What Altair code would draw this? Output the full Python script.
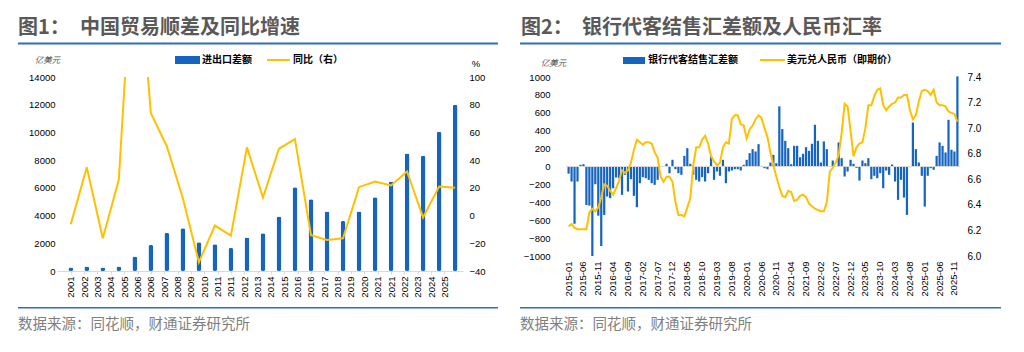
import altair as alt
import pandas as pd

# ---------------- Figure 1: China trade surplus and YoY ----------------
years = [2001, 2002, 2003, 2004, 2005, 2006, 2007, 2008, 2009, 2010, 2011, 2012, 2013,
         2014, 2015, 2016, 2017, 2018, 2019, 2020, 2021, 2022, 2023, 2024, 2025]
trade_surplus = [250, 320, 260, 330, 1050, 1880, 2750, 3080, 2070, 1930, 1660, 2410, 2720,
                 3930, 6050, 5180, 4290, 3610, 4290, 5330, 6460, 8480, 8310, 10050, 12000]
trade_yoy = [-6.3, 34.9, -16.4, 25.8, 218.0, 74.0, 49.9, 12.5, -33.7, -7.2, -14.5, 49.2, 13.0,
             48.2, 55.2, -14.2, -17.6, -16.4, 20.5, 24.6, 21.7, 31.8, -1.4, 21.0, 20.0]

# ---------------- Figure 2: bank FX settlement balance and USD/CNY ----------------
fx_years = [2015, 2016, 2017, 2018, 2019, 2020, 2021, 2022, 2023, 2024, 2025]
fx_net = [
    -80, -168, -640, -168, 19, 26, -430, -437, -1000, -198, -549, -888,      # 2015
    -541, -336, -354, -243, -123, -131, -317, -93, -280, -142, -328, -455,   # 2016
    -187, -119, -131, -149, -187, -205, -149, -5, 5, 30, -75, 75,            # 2017
    -30, -75, -93, 119, 205, 30, -93, -149, -168, -119, -168, -75,           # 2018
    119, -149, -56, -104, 75, -187, -56, -45, -30, -30, -45, 19,             # 2019
    75, 149, 194, 168, 250, 7, -19, -30, 45, 130, 37, 672,                   # 2020
    418, 287, 205, 26, 231, 231, 104, 142, 216, 175, 254, 466,               # 2021
    287, 45, 280, 194, -5, 67, 5, 269, 93, -112, -56, 75,                    # 2022
    30, -15, -157, 67, 37, 93, -142, -104, -131, -75, -243, -45,             # 2023
    -93, 22, -168, -373, -149, -347, -541, -7, 492, 194, 45, -104,           # 2024
    -448, -104, -19, -37, 119, 269, 231, 157, 522, 187, 168, 1007,           # 2025
]
usdcny = [
    6.23, 6.25, 6.22, 6.21, 6.21, 6.21, 6.21, 6.34, 6.37, 6.35, 6.38, 6.46,
    6.56, 6.55, 6.51, 6.48, 6.53, 6.59, 6.67, 6.65, 6.67, 6.73, 6.83, 6.91,
    6.89, 6.87, 6.89, 6.89, 6.88, 6.81, 6.77, 6.62, 6.58, 6.62, 6.62, 6.58,
    6.42, 6.32, 6.32, 6.31, 6.38, 6.45, 6.71, 6.85, 6.85, 6.91, 6.94, 6.88,
    6.78, 6.74, 6.71, 6.73, 6.85, 6.89, 6.88, 7.07, 7.10, 7.10, 7.03, 7.02,
    6.92, 6.99, 7.02, 7.07, 7.10, 7.08, 7.00, 6.93, 6.81, 6.71, 6.62, 6.54,
    6.47, 6.46, 6.51, 6.50, 6.43, 6.44, 6.47, 6.48, 6.46, 6.41, 6.39, 6.37,
    6.36, 6.35, 6.35, 6.42, 6.66, 6.69, 6.73, 6.79, 6.96, 7.19, 7.17, 6.98,
    6.78, 6.85, 6.88, 6.89, 7.00, 7.18, 7.18, 7.25, 7.30, 7.31, 7.18, 7.14,
    7.17, 7.19, 7.20, 7.24, 7.24, 7.26, 7.26, 7.14, 7.07, 7.10, 7.21, 7.29,
    7.30, 7.29, 7.26, 7.30, 7.20, 7.18, 7.18, 7.17, 7.13, 7.12, 7.11, 7.05,
]

CJK = "Noto Sans CJK SC"
NUM = "Liberation Sans"
BLUE = "#1565C0"
GOLD = "#FFC000"
RULE = "#2F6EB8"
GREY_TITLE = "#595959"
GREY_SRC = "#7F7F7F"

one = alt.Data(values=[{}])


def txt(s, x, y, size, color="#000000", weight="normal", font=CJK, align="left",
        style="normal"):
    return alt.Chart(one).mark_text(
        text=s, fontSize=size, color=color, fontWeight=weight, font=font,
        align=align, baseline="middle", fontStyle=style
    ).encode(x=alt.value(x), y=alt.value(y))


def hrule(x1, x2, y, color, width):
    return alt.Chart(one).mark_rule(color=color, strokeWidth=width).encode(
        x=alt.value(x1), x2=alt.value(x2), y=alt.value(y))


def box(x1, x2, y1, y2, color, opacity=1.0):
    return alt.Chart(one).mark_rect(color=color, opacity=opacity).encode(
        x=alt.value(x1), x2=alt.value(x2), y=alt.value(y1), y2=alt.value(y2))


# ---------------- left panel ----------------
df1 = pd.DataFrame({
    "date": [f"{y}-12-01" for y in years],
    "surplus": trade_surplus,
    "yoy": trade_yoy,
})

tick_dates = []
yy, mm = 2001, 12
for _ in range(29):
    tick_dates.append(alt.DateTime(year=yy, month=mm, date=1))
    mm += 10
    while mm > 12:
        mm -= 12
        yy += 1

W1, H1 = 406, 194
x1 = alt.X("date:T",
           scale=alt.Scale(domain=[alt.DateTime(year=2001, month=5, date=15),
                                   alt.DateTime(year=2026, month=2, date=5)]),
           axis=alt.Axis(values=tick_dates, format="%Y", labelAngle=270,
                         labelFontSize=9.5, labelFont=NUM, labelColor="#000000",
                         domainColor="#D9D9D9", tickColor="#D9D9D9", tickSize=3,
                         labelPadding=2, grid=False, title=None, labelOverlap=False))

bars1 = alt.Chart(df1).mark_bar(size=4.8, color=BLUE, cornerRadius=2).encode(
    x=x1,
    y=alt.Y("surplus:Q", scale=alt.Scale(domain=[0, 14000]),
            axis=alt.Axis(values=list(range(0, 14001, 2000)), format="d", grid=False,
                          domain=False, ticks=False, labelPadding=2, labelFontSize=9.5,
                          labelFont=NUM, labelColor="#000000", title=None,
                          labelOverlap=False)),
)
line1 = alt.Chart(df1).mark_line(color=GOLD, strokeWidth=2, clip=True).encode(
    x=x1,
    y=alt.Y("yoy:Q", scale=alt.Scale(domain=[-40, 100]),
            axis=alt.Axis(orient="right", values=list(range(-40, 101, 20)), format="d",
                          grid=False, domain=False, ticks=False, labelPadding=6,
                          labelFontSize=9.5, labelFont=NUM, labelColor="#000000",
                          title=None, labelOverlap=False)),
)

left = alt.layer(
    box(-57, 455, -77, 275, "#FFFFFF", 0.0),
    bars1, line1,
    txt("图1：", -39, -49.5, 20, GREY_TITLE, "bold"),
    txt("中国贸易顺差及同比增速", 23, -49.5, 20, GREY_TITLE, "bold"),
    hrule(-39, 441, -33.5, RULE, 2),
    txt("亿美元", -9.5, -17, 8.5, GREY_TITLE, align="center", style="italic"),
    box(118, 143, -21, -13, BLUE),
    txt("进出口差额", 145, -17, 10, "#000000", "bold"),
    hrule(210, 233, -17, GOLD, 2),
    txt("同比（右）", 236, -17, 10, "#000000", "bold"),
    txt("%", 419, -13, 9.5, "#000000", font=NUM, align="center"),
    hrule(-39, 441, 230.7, RULE, 1.5),
    txt("数据来源：同花顺，财通证券研究所", -39, 248, 14.5, GREY_SRC),
).resolve_scale(y="independent").properties(width=W1, height=H1)

# ---------------- right panel ----------------
months = [f"{y}-{m:02d}" for y in fx_years for m in range(1, 13)]
df2 = pd.DataFrame({"month": months, "net": fx_net, "rate": usdcny})
label_months = months[::5]

W2, H2 = 394, 179
x2 = alt.X("month:O", sort=None,
           scale=alt.Scale(paddingInner=0.25, paddingOuter=0.5),
           axis=alt.Axis(values=label_months, labelAngle=270, labelFontSize=9.5,
                         labelFont=NUM, labelColor="#000000", domain=False, ticks=False,
                         labelPadding=5, grid=False, title=None, labelOverlap=False))

net_scale = alt.Scale(domain=[-1000, 1000])
net_axis = alt.Axis(values=list(range(-1000, 1001, 200)), format="d", grid=False,
                    domain=False, ticks=False, labelPadding=16, labelFontSize=9.5,
                    labelFont=NUM, labelColor="#000000", title=None, labelOverlap=False)

bars2 = alt.Chart(df2).mark_bar(color=BLUE).encode(
    x=x2, y=alt.Y("net:Q", scale=net_scale, axis=net_axis))
zero2 = alt.Chart(one).mark_rule(color="#D9D9D9", strokeWidth=1).encode(
    y=alt.Y(datum=0, type="quantitative", scale=net_scale, axis=net_axis))
line2 = alt.Chart(df2).mark_line(color=GOLD, strokeWidth=2).encode(
    x=x2,
    y=alt.Y("rate:Q", scale=alt.Scale(domain=[6.0, 7.4], zero=False),
            axis=alt.Axis(orient="right", values=[6.0, 6.2, 6.4, 6.6, 6.8, 7.0, 7.2, 7.4],
                          format=".1f", grid=False, domain=False, ticks=False,
                          labelPadding=7, labelFontSize=10, labelFont=NUM,
                          labelColor="#000000", title=None, labelOverlap=False)),
)

right = alt.layer(
    box(-54, 458, -77, 275, "#FFFFFF", 0.0),
    alt.layer(bars2, zero2),
    line2,
    txt("图2：", -45, -49.5, 20, GREY_TITLE, "bold"),
    txt("银行代客结售汇差额及人民币汇率", 16, -49.5, 20, GREY_TITLE, "bold"),
    hrule(-46, 435, -33.5, RULE, 2),
    txt("亿美元", -12.5, -14, 8.5, GREY_TITLE, align="center", style="italic"),
    box(57, 79, -20, -13, BLUE),
    txt("银行代客结售汇差额", 82, -17, 10, "#000000", "bold"),
    hrule(194, 219, -17, GOLD, 2),
    txt("美元兑人民币（即期价）", 221, -17, 10, "#000000", "bold"),
    hrule(-46, 435, 230.7, RULE, 1.5),
    txt("数据来源：同花顺，财通证券研究所", -46, 248, 14.5, GREY_SRC),
).resolve_scale(y="independent").properties(width=W2, height=H2)

chart = alt.hconcat(left, right, spacing=0).properties(
    padding=0, background="#FFFFFF"
).configure_view(strokeWidth=0)

chart.save("out.html", embed_options={"renderer": "svg", "actions": False})
